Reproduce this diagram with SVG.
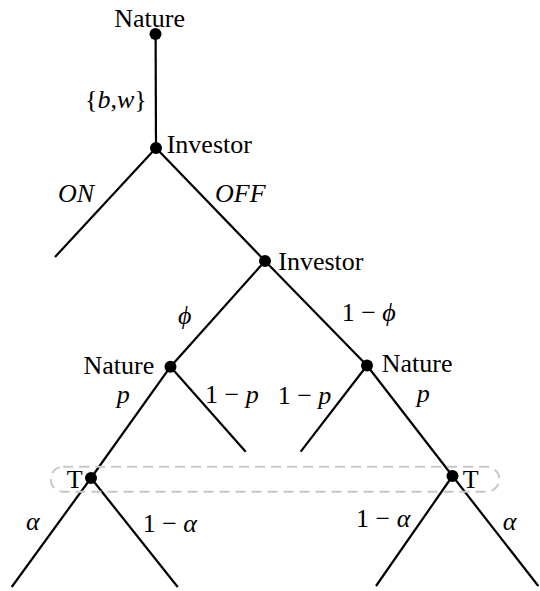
<svg xmlns="http://www.w3.org/2000/svg" width="540" height="591" viewBox="0 0 540 591">
<style>
.e{stroke:#000;stroke-width:2.2;fill:none;stroke-linecap:butt}
.d{fill:#000}
text{font-family:"Liberation Serif","Times New Roman",serif;font-size:26px;fill:#000}
.i{font-style:italic}
.info{fill:none;stroke:#c8c8c8;stroke-width:2;stroke-dasharray:10 6}
</style>
<rect width="540" height="591" fill="#fff"/>
<g id="connectors">
<line class="e" x1="155.6" y1="34" x2="156" y2="148"/>
<line class="e" x1="156" y1="148" x2="55" y2="257"/>
<line class="e" x1="156" y1="148" x2="265" y2="261"/>
<line class="e" x1="265" y1="261" x2="170.5" y2="366.7"/>
<line class="e" x1="265" y1="261" x2="367" y2="365.5"/>
<line class="e" x1="170.5" y1="366.7" x2="91" y2="478"/>
<line class="e" x1="170.5" y1="366.7" x2="245.7" y2="451.7"/>
<line class="e" x1="367" y1="365.5" x2="300.7" y2="451.7"/>
<line class="e" x1="367" y1="365.5" x2="452.5" y2="476"/>
<line class="e" x1="91" y1="478" x2="11.7" y2="587"/>
<line class="e" x1="91" y1="478" x2="177.7" y2="587"/>
<line class="e" x1="452.5" y1="476" x2="376" y2="586"/>
<line class="e" x1="452.5" y1="476" x2="538.3" y2="586"/>
<text x="85" y="108">{<tspan class="i">b</tspan>,<tspan class="i">w</tspan>}</text>
<text class="i" x="58" y="202">ON</text>
<text class="i" x="215" y="202">OFF</text>
<text class="i" x="178" y="324">ϕ</text>
<text x="341.7" y="321">1 − <tspan class="i">ϕ</tspan></text>
<text class="i" x="116.7" y="403">p</text>
<text x="205" y="403">1 − <tspan class="i">p</tspan></text>
<text x="277.7" y="404">1 − <tspan class="i">p</tspan></text>
<text class="i" x="416.7" y="402">p</text>
<text class="i" x="26" y="530">α</text>
<text x="142.7" y="532">1 − <tspan class="i">α</tspan></text>
<text x="356" y="527">1 − <tspan class="i">α</tspan></text>
<text class="i" x="502.7" y="530">α</text>
</g>
<g id="infoset">
<rect class="info" x="50.7" y="466.7" width="448.6" height="25" rx="12.5"/>
</g>
<g id="n-root">
<circle class="d" cx="155.5" cy="34" r="6"/>
<text x="114.3" y="26.7">Nature</text>
</g>
<g id="n-inv1">
<circle class="d" cx="156" cy="148" r="6"/>
<text x="166.7" y="153.3">Investor</text>
</g>
<g id="n-inv2">
<circle class="d" cx="265" cy="261" r="6"/>
<text x="278.3" y="270">Investor</text>
</g>
<g id="n-natL">
<circle class="d" cx="170.5" cy="366.7" r="6"/>
<text x="154.3" y="374" text-anchor="end">Nature</text>
</g>
<g id="n-natR">
<circle class="d" cx="367" cy="365.5" r="6"/>
<text x="381.7" y="372">Nature</text>
</g>
<g id="n-TL">
<circle class="d" cx="91" cy="478" r="6"/>
<text x="66.7" y="488">T</text>
</g>
<g id="n-TR">
<circle class="d" cx="452.5" cy="476" r="6"/>
<text x="462.7" y="488">T</text>
</g>
</svg>
